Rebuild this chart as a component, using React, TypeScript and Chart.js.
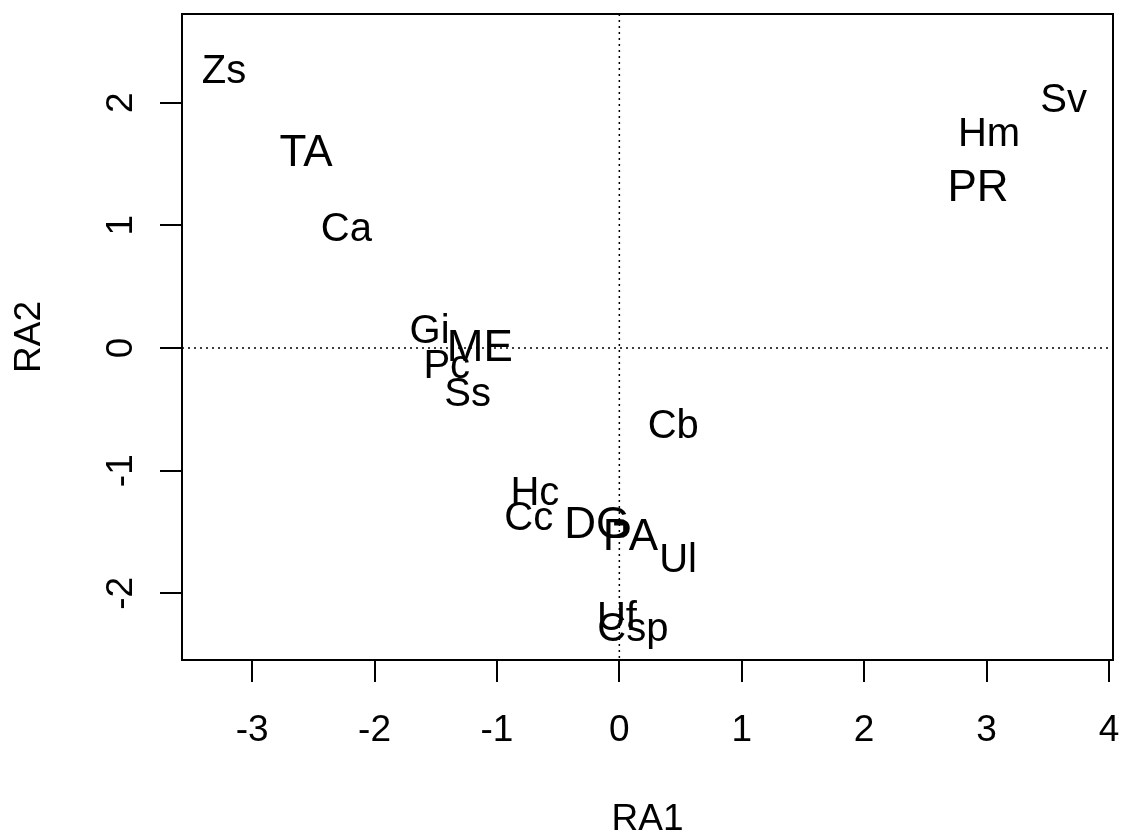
import React, { useEffect, useRef } from "react";
import { Chart, registerables } from "chart.js";

Chart.register(...registerables);

// Ordination scores (RA1 / RA2) with the label drawn at each point
const labels = ["Zs", "TA", "Ca", "Gi", "ME", "Pc", "Ss", "Cb", "Hc", "Cc", "DG", "PA", "Ul", "Uf", "Csp", "Sv", "Hm", "PR"];
const ra1 = [-3.23, -2.56, -2.23, -1.55, -1.14, -1.41, -1.24, 0.44, -0.69, -0.74, -0.18, 0.09, 0.48, -0.02, 0.11, 3.63, 3.02, 2.93];
const ra2 = [2.28, 1.61, 0.99, 0.16, 0.02, -0.13, -0.36, -0.62, -1.16, -1.37, -1.42, -1.52, -1.71, -2.18, -2.27, 2.04, 1.76, 1.33];
const kinds = ["sp", "site", "sp", "sp", "site", "sp", "sp", "sp", "sp", "sp", "site", "site", "sp", "sp", "sp", "sp", "sp", "site"];

const xTicks = [-3, -2, -1, 0, 1, 2, 3, 4];
const yTicks = [-2, -1, 0, 1, 2];
const xRange = [-3.573, 4.033];
const yRange = [-2.543, 2.722];
const xTitle = "RA1";
const yTitle = "RA2";

const FONT = "'Liberation Sans', Arial, Helvetica, sans-serif";
const CAP = 0.716;
const kindSize: Record<string, number> = { sp: 40, site: 44 };
const axisSize = 37;

const rStyle = {
  id: "rStyle",
  beforeDatasetsDraw(chart: any) {
    const { ctx, chartArea: a, scales } = chart;
    const x0 = scales.x.getPixelForValue(0);
    const y0 = scales.y.getPixelForValue(0);
    ctx.save();
    ctx.strokeStyle = "#000";
    ctx.lineWidth = 1.5;
    ctx.setLineDash([2, 4]);
    ctx.beginPath();
    ctx.moveTo(x0, a.top);
    ctx.lineTo(x0, a.bottom);
    ctx.moveTo(a.left, y0);
    ctx.lineTo(a.right, y0);
    ctx.stroke();
    ctx.restore();
  },
  afterDatasetsDraw(chart: any) {
    const { ctx } = chart;
    const meta = chart.getDatasetMeta(0);
    ctx.save();
    ctx.fillStyle = "#000";
    ctx.textAlign = "center";
    ctx.textBaseline = "alphabetic";
    meta.data.forEach((pt: any, i: number) => {
      const size = kindSize[kinds[i]];
      ctx.font = `${size}px ${FONT}`;
      ctx.fillText(labels[i], pt.x, pt.y + (CAP * size) / 2);
    });
    ctx.restore();
  },
  afterDraw(chart: any) {
    const { ctx, chartArea: a, scales } = chart;
    ctx.save();
    ctx.strokeStyle = "#000";
    ctx.lineWidth = 2;
    ctx.strokeRect(a.left, a.top, a.right - a.left, a.bottom - a.top);

    ctx.fillStyle = "#000";
    ctx.font = `${axisSize}px ${FONT}`;
    ctx.textAlign = "center";
    ctx.textBaseline = "alphabetic";
    const half = (CAP * axisSize) / 2;

    xTicks.forEach((v) => {
      ctx.fillText(String(v), scales.x.getPixelForValue(v), a.bottom + 68 + half);
    });
    ctx.fillText(xTitle, (a.left + a.right) / 2, a.bottom + 157 + half);

    yTicks.forEach((v) => {
      ctx.save();
      ctx.translate(a.left - 63, scales.y.getPixelForValue(v));
      ctx.rotate(-Math.PI / 2);
      ctx.fillText(String(v), 0, half);
      ctx.restore();
    });
    ctx.save();
    ctx.translate(a.left - 155, (a.top + a.bottom) / 2);
    ctx.rotate(-Math.PI / 2);
    ctx.fillText(yTitle, 0, half);
    ctx.restore();
    ctx.restore();
  },
};

function axis(min: number, max: number, ticks: number[]) {
  return {
    type: "linear" as const,
    min,
    max,
    afterBuildTicks: (scale: any) => {
      scale.ticks = ticks.map((value) => ({ value }));
    },
    ticks: { display: false },
    border: { display: false },
    grid: {
      display: true,
      drawOnChartArea: false,
      drawTicks: true,
      tickLength: 22,
      color: "#000",
      lineWidth: 2,
    },
  };
}

export default function App() {
  const ref = useRef<HTMLCanvasElement | null>(null);

  useEffect(() => {
    if (!ref.current) return;
    const chart = new Chart(ref.current, {
      type: "scatter",
      data: {
        datasets: [
          {
            data: ra1.map((x, i) => ({ x, y: ra2[i] })),
            pointRadius: 0,
            pointHoverRadius: 0,
          },
        ],
      },
      options: {
        responsive: false,
        animation: false,
        layout: { padding: { left: 160, right: 10, top: 14, bottom: 153 } },
        plugins: { legend: { display: false }, tooltip: { enabled: false } },
        scales: {
          x: axis(xRange[0], xRange[1], xTicks),
          y: axis(yRange[0], yRange[1], yTicks),
        },
      },
      plugins: [rStyle],
    });
    return () => chart.destroy();
  }, []);

  return (
    <div style={{ position: "absolute", left: 0, top: 0, width: 1123, height: 835, background: "#fff" }}>
      <canvas ref={ref} width={1123} height={835} style={{ display: "block" }} />
    </div>
  );
}
